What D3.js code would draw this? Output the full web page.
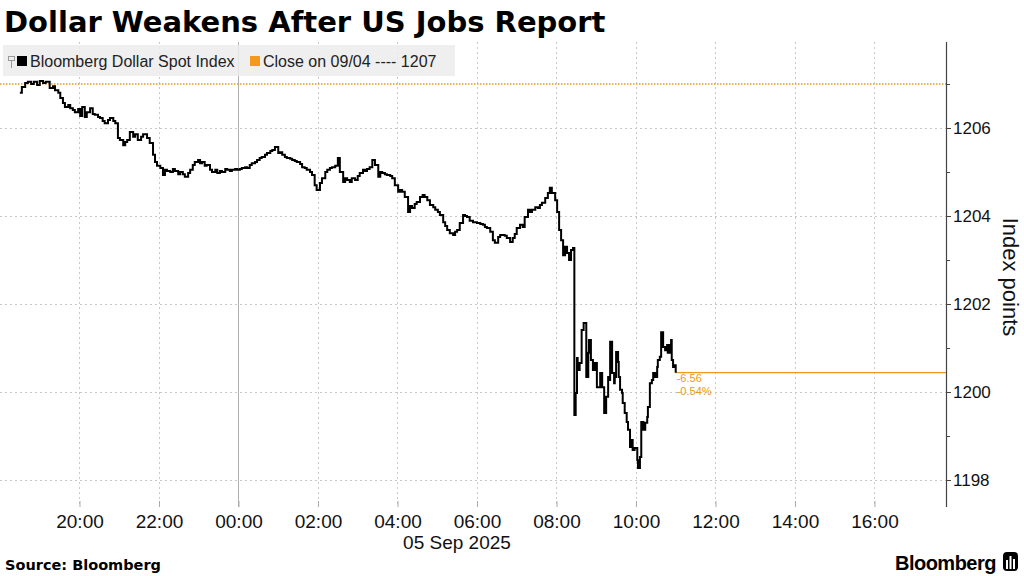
<!DOCTYPE html>
<html>
<head>
<meta charset="utf-8">
<script src="https://cdn.jsdelivr.net/npm/d3@7"></script>
<style>
  html, body { margin: 0; padding: 0; background: #fff; }
  svg { display: block; font-family: "Liberation Sans", Arial, sans-serif; }
</style>
</head>
<body>
<svg id="chart" width="1024" height="576"></svg>
<script>
// ---------------- DATA ----------------
const titleText = "Dollar Weakens After US Jobs Report";
const seriesName = "Bloomberg Dollar Spot Index";
const closeLabel = "Close on 09/04 ---- 1207";
const closeValue = 1207;
const changeLabels = ["-6.56", "-0.54%"];
const yTickValues = [1198, 1200, 1202, 1204, 1206];
const yMinorTicks = [1199, 1201, 1203, 1205, 1207];
const xTickLabels = ["20:00","22:00","00:00","02:00","04:00","06:00","08:00","10:00","12:00","14:00","16:00"];
const dateLabel = "05 Sep 2025";
const yAxisTitle = "Index points";
const sourceText = "Source: Bloomberg";

// times (18:xx-23:xx = 04 Sep, 00:xx-17:xx = 05 Sep)
const times = [
 "18:30","18:33","18:38","18:42","18:47","18:51","18:56","19:00","19:05","19:09",
 "19:15","19:20","19:23","19:28","19:31","19:35","19:38","19:43","19:46","19:50",
 "19:53","19:58","20:01","20:04","20:08","20:11","20:16","20:20","20:23","20:28",
 "20:31","20:35","20:38","20:43","20:46","20:51","20:54","20:58","21:01","21:06",
 "21:09","21:12","21:16","21:21","21:24","21:28","21:33","21:36","21:42","21:46",
 "21:51","21:54","21:57","22:02","22:06","22:09","22:12","22:17","22:21","22:24",
 "22:29","22:32","22:36","22:39","22:44","22:47","22:51","22:54","22:59","23:02",
 "23:05","23:09","23:12","23:17","23:20","23:25","23:28","23:32","23:35","23:40",
 "23:43","23:47","23:50","23:55","23:58","00:02","00:05","00:10","00:13","00:17",
 "00:20","00:25","00:28","00:32","00:35","00:40","00:43","00:48","00:51","00:55",
 "01:00","01:03","01:06","01:10","01:13","01:18","01:21","01:25","01:28","01:33",
 "01:36","01:40","01:43","01:48","01:51","01:55","01:58","02:03","02:06","02:11",
 "02:14","02:18","02:21","02:26","02:30","02:33","02:38","02:41","02:44","02:48",
 "02:51","02:56","03:00","03:03","03:08","03:11","03:14","03:18","03:22","03:26",
 "03:31","03:34","03:37","03:41","03:44","03:49","03:52","03:56","04:01","04:04",
 "04:07","04:11","04:16","04:19","04:22","04:26","04:29","04:34","04:38","04:41",
 "04:45","04:49","04:54","04:57","05:01","05:04","05:09","05:12","05:15","05:19",
 "05:24","05:27","05:30","05:34","05:39","05:42","05:45","05:49","05:54","06:00",
 "06:05","06:09","06:12","06:15","06:20","06:24","06:27","06:32","06:35","06:38",
 "06:42","06:45","06:50","06:54","06:57","07:00","07:05","07:09","07:12","07:17",
 "07:20","07:23","07:28","07:32","07:35","07:38","07:43","07:47","07:50","07:53",
 "07:58","08:01","08:04","08:07","08:10","08:13","08:16","08:19","08:22","08:25",
 "08:27","08:29","08:31","08:32","08:35","08:38","08:41","08:45","08:48","08:49",
 "08:52","08:55","08:58","09:01","09:06","09:09","09:12","09:15","09:18","09:19",
 "09:21","09:24","09:27","09:28","09:30","09:33","09:34","09:36","09:39","09:40",
 "09:43","09:46","09:48","09:51","09:54","09:55","09:58","10:02","10:03","10:06",
 "10:08","10:11","10:14","10:17","10:18","10:21","10:24","10:26","10:29","10:32",
 "10:33","10:36","10:38","10:41","10:44","10:47","10:48","10:51","10:53","10:54",
 "10:56","10:59","11:00"
];
const values = [
 1206.80,1206.93,1207.02,1207.05,1207.00,1207.05,1206.98,1207.07,1207.02,1207.05,
 1206.91,1206.95,1206.86,1206.80,1206.68,1206.57,1206.48,1206.52,1206.45,1206.41,
 1206.36,1206.43,1206.27,1206.48,1206.25,1206.36,1206.45,1206.32,1206.30,1206.25,
 1206.23,1206.16,1206.11,1206.18,1206.23,1206.16,1206.11,1205.77,1205.73,1205.61,
 1205.68,1205.73,1205.91,1205.80,1205.86,1205.73,1205.80,1205.86,1205.77,1205.66,
 1205.39,1205.23,1205.14,1205.09,1204.93,1205.05,1205.02,1205.00,1205.07,1205.02,
 1204.95,1205.00,1204.95,1204.89,1204.98,1205.05,1205.16,1205.23,1205.27,1205.20,
 1205.23,1205.14,1205.16,1205.05,1205.00,1205.05,1204.98,1205.02,1205.00,1205.07,
 1205.05,1205.02,1205.05,1205.07,1205.05,1205.07,1205.09,1205.11,1205.09,1205.16,
 1205.20,1205.23,1205.27,1205.32,1205.34,1205.39,1205.43,1205.48,1205.50,1205.57,
 1205.43,1205.45,1205.39,1205.34,1205.32,1205.30,1205.27,1205.25,1205.23,1205.18,
 1205.11,1205.09,1205.05,1205.00,1204.93,1204.70,1204.59,1204.75,1204.86,1205.00,
 1205.05,1205.09,1205.11,1205.14,1205.32,1205.00,1204.77,1204.86,1204.82,1204.77,
 1204.86,1204.82,1204.91,1204.98,1205.05,1205.02,1205.07,1205.11,1205.27,1205.16,
 1204.89,1205.00,1204.98,1204.95,1204.93,1204.91,1204.86,1204.70,1204.55,1204.59,
 1204.55,1204.43,1204.09,1204.23,1204.18,1204.27,1204.32,1204.43,1204.48,1204.43,
 1204.36,1204.25,1204.20,1204.14,1204.09,1204.02,1203.86,1203.77,1203.68,1203.61,
 1203.57,1203.64,1203.68,1203.84,1204.02,1204.00,1203.98,1203.89,1203.86,1203.84,
 1203.82,1203.80,1203.75,1203.73,1203.64,1203.45,1203.39,1203.52,1203.57,1203.57,
 1203.55,1203.50,1203.41,1203.50,1203.59,1203.73,1203.80,1203.75,1203.98,1204.14,
 1204.09,1204.14,1204.20,1204.18,1204.25,1204.30,1204.41,1204.52,1204.64,1204.52,
 1204.36,1204.09,1203.68,1203.45,1203.11,1203.30,1203.16,1203.00,1203.23,1203.27,
 1199.48,1199.98,1200.77,1200.50,1200.66,1201.41,1201.57,1200.34,1200.89,1201.18,
 1200.73,1200.50,1200.66,1200.11,1200.43,1200.11,1199.52,1199.89,1200.34,1200.27,
 1201.14,1200.43,1200.20,1200.34,1200.91,1200.68,1200.34,1200.05,1199.98,1199.75,
 1199.52,1199.32,1199.14,1198.75,1198.91,1198.68,1198.73,1198.45,1198.27,1198.52,
 1199.32,1199.14,1199.30,1199.43,1199.66,1200.20,1200.27,1200.43,1200.34,1200.57,
 1200.73,1200.80,1201.36,1201.02,1200.95,1201.07,1200.89,1201.07,1201.18,1200.73,
 1200.57,1200.61,1200.44
];

// ---------------- CHART ----------------
const svg = d3.select("#chart");
const plotLeft = 0, plotRight = 946, plotTop = 42, plotBottom = 507;
const orange = "#e89a22";

function toDate(s) {
  const [h, m] = s.split(":").map(Number);
  return h >= 18 ? new Date(2025, 8, 4, h, m) : new Date(2025, 8, 5, h, m);
}
const data = times.map((t, i) => ({ t: toDate(t), v: values[i] }));
const xTicks = xTickLabels.map(toDate);

const x = d3.scaleTime()
  .domain([new Date(2025, 8, 4, 18, 0), new Date(2025, 8, 5, 17, 48)])
  .range([plotLeft, plotRight]);
const y = d3.scaleLinear().domain([1198, 1206]).range([480, 128]);

// horizontal gridlines
svg.append("g").selectAll("line").data(yTickValues).join("line")
  .attr("x1", plotLeft).attr("x2", plotRight)
  .attr("y1", d => Math.round(y(d)) + 0.5).attr("y2", d => Math.round(y(d)) + 0.5)
  .attr("stroke", "#c8c8c8").attr("stroke-width", 1).attr("stroke-dasharray", "2,3");

// vertical gridlines
svg.append("g").selectAll("line").data(xTicks).join("line")
  .attr("x1", d => Math.round(x(d)) + 0.5).attr("x2", d => Math.round(x(d)) + 0.5)
  .attr("y1", plotTop).attr("y2", plotBottom)
  .attr("stroke", d => d.getHours() === 0 ? "#b0b0b0" : "#c8c8c8")
  .attr("stroke-width", 1)
  .attr("stroke-dasharray", d => d.getHours() === 0 ? null : "2,3");

// x axis
const xAxis = svg.append("g").attr("transform", `translate(0,${plotBottom})`)
  .call(d3.axisBottom(x).tickValues(xTicks).tickFormat(d3.timeFormat("%H:%M"))
    .tickSizeInner(-6).tickSizeOuter(0).tickPadding(8));
xAxis.select(".domain").remove();
xAxis.selectAll(".tick line").attr("stroke", "#aaa");
xAxis.selectAll("text").attr("font-size", 19).attr("fill", "#111")
  .attr("font-family", "'Liberation Sans', Arial, sans-serif");

svg.append("text").attr("x", 457).attr("y", 549).attr("text-anchor", "middle")
  .attr("font-size", 19).attr("fill", "#111").text(dateLabel);

// close reference (dotted orange)
svg.append("line")
  .attr("x1", plotLeft).attr("x2", plotRight)
  .attr("y1", y(closeValue)).attr("y2", y(closeValue))
  .attr("stroke", orange).attr("stroke-width", 1.3).attr("stroke-dasharray", "1.5,1.5");

// last value line
const last = data[data.length - 1];
svg.append("line")
  .attr("x1", x(last.t)).attr("x2", plotRight)
  .attr("y1", y(last.v)).attr("y2", y(last.v))
  .attr("stroke", orange).attr("stroke-width", 1.2);

// main series
const line = d3.line().x(d => x(d.t)).y(d => y(d.v)).curve(d3.curveStepAfter);
svg.append("path").datum(data)
  .attr("d", line).attr("fill", "none")
  .attr("stroke", "#000").attr("stroke-width", 2).attr("stroke-linejoin", "miter");

// change annotations
changeLabels.forEach((s, i) => {
  svg.append("text").attr("x", x(last.t) + 1).attr("y", 382 + i * 13)
    .attr("font-size", 11).attr("fill", orange).text(s);
});

// right axis
svg.append("line").attr("x1", plotRight + 0.5).attr("x2", plotRight + 0.5)
  .attr("y1", plotTop).attr("y2", plotBottom).attr("stroke", "#444").attr("stroke-width", 1.2);
const yAxis = svg.append("g").attr("transform", `translate(${plotRight},0)`)
  .call(d3.axisRight(y).tickValues(yTickValues).tickSize(5).tickPadding(2).tickFormat(d3.format("d")));
yAxis.select(".domain").remove();
yAxis.selectAll(".tick line").attr("stroke", "#444");
yAxis.selectAll("text").attr("font-size", 17).attr("fill", "#111")
  .attr("font-family", "'Liberation Sans', Arial, sans-serif");
const yMinor = svg.append("g").attr("transform", `translate(${plotRight},0)`)
  .call(d3.axisRight(y).tickValues(yMinorTicks).tickSize(4).tickFormat(""));
yMinor.select(".domain").remove();
yMinor.selectAll(".tick line").attr("stroke", "#444");

svg.append("text")
  .attr("transform", `translate(1003,277) rotate(90)`)
  .attr("text-anchor", "middle").attr("font-size", 22).attr("fill", "#111")
  .text(yAxisTitle);

// legend
const lg = svg.append("g");
lg.append("rect").attr("x", 3).attr("y", 45).attr("width", 452).attr("height", 31)
  .attr("fill", "rgba(236,236,236,0.85)");
lg.append("rect").attr("x", 8.5).attr("y", 56.5).attr("width", 6).attr("height", 4)
  .attr("fill", "none").attr("stroke", "#999");
lg.append("line").attr("x1", 11.5).attr("x2", 11.5).attr("y1", 60.5).attr("y2", 68)
  .attr("stroke", "#999");
lg.append("rect").attr("x", 17).attr("y", 56).attr("width", 10).attr("height", 10).attr("fill", "#000");
lg.append("text").attr("x", 30).attr("y", 67).attr("font-size", 16).attr("fill", "#222").text(seriesName);
lg.append("rect").attr("x", 250).attr("y", 56).attr("width", 10).attr("height", 10).attr("fill", "#f39a1d");
lg.append("text").attr("x", 263).attr("y", 67).attr("font-size", 16).attr("fill", "#222").text(closeLabel);

// title
svg.append("text").attr("x", 4).attr("y", 32).attr("font-size", 29).attr("font-weight", "bold")
  .attr("font-family", "'DejaVu Sans', sans-serif")
  .attr("fill", "#000").text(titleText);

// source
svg.append("text").attr("x", 5).attr("y", 570).attr("font-size", 14.5).attr("font-weight", "bold")
  .attr("font-family", "'DejaVu Sans', sans-serif")
  .attr("fill", "#000").text(sourceText);

// Bloomberg logo
svg.append("text").attr("x", 996).attr("y", 570).attr("text-anchor", "end")
  .attr("font-size", 20).attr("font-weight", "bold").attr("letter-spacing", -0.5)
  .attr("fill", "#000").text("Bloomberg");
const logo = svg.append("g").attr("transform", "translate(1003,552)");
logo.append("rect").attr("width", 15).attr("height", 19).attr("rx", 4).attr("fill", "#000");
[[3, 8, 9], [6.5, 4, 13], [10, 7, 10]].forEach(([bx, by, bh]) => {
  logo.append("rect").attr("x", bx).attr("y", by).attr("width", 2).attr("height", bh).attr("fill", "#fff");
});
</script>
</body>
</html>
